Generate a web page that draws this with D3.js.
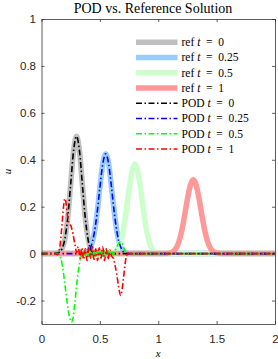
<!DOCTYPE html>
<html>
<head>
<meta charset="utf-8">
<script src="https://cdn.jsdelivr.net/npm/d3@7"></script>
<style>
  body { margin: 0; background: #fff; }
  svg { display: block; }
</style>
</head>
<body>
<div id="chart"></div>
<script>
// reference solutions
var refX0 = [0, 0.1, 0.125, 0.15, 0.175, 0.2, 0.225, 0.25, 0.275, 0.3, 0.325, 0.35, 0.375, 0.4, 0.425, 0.45, 0.475, 0.5, 2];
var refU0 = [0, 0, 0.001, 0.004, 0.019, 0.061, 0.154, 0.296, 0.439, 0.5, 0.439, 0.296, 0.154, 0.061, 0.019, 0.004, 0.001, 0, 0];

var refX1 = [0, 0.35, 0.375, 0.4, 0.425, 0.45, 0.475, 0.5, 0.525, 0.55, 0.575, 0.6, 0.625, 0.65, 0.675, 0.7, 0.725, 0.75, 2];
var refU1 = [0, 0, 0.003, 0.010, 0.032, 0.082, 0.168, 0.281, 0.383, 0.425, 0.383, 0.281, 0.168, 0.082, 0.032, 0.010, 0.003, 0, 0];

var refX2 = [0, 0.55, 0.6, 0.625, 0.65, 0.675, 0.7, 0.725, 0.75, 0.775, 0.8, 0.825, 0.85, 0.875, 0.9, 0.925, 0.95, 0.975, 1.0, 1.05, 2];
var refU2 = [0, 0, 0.002, 0.006, 0.018, 0.046, 0.099, 0.179, 0.273, 0.351, 0.382, 0.351, 0.273, 0.179, 0.099, 0.046, 0.018, 0.006, 0.002, 0, 0];

var refX3 = [0, 1.05, 1.1, 1.125, 1.15, 1.175, 1.2, 1.225, 1.25, 1.275, 1.3, 1.325, 1.35, 1.375, 1.4, 1.425, 1.45, 1.475, 1.5, 1.55, 2];
var refU3 = [0, 0, 0.003, 0.008, 0.021, 0.048, 0.095, 0.160, 0.233, 0.292, 0.315, 0.292, 0.233, 0.160, 0.095, 0.048, 0.021, 0.008, 0.003, 0, 0];

// POD approximations
var podX0 = [0, 0.1, 0.125, 0.15, 0.175, 0.2, 0.225, 0.25, 0.275, 0.3, 0.325, 0.35, 0.375, 0.4, 0.425, 0.45, 0.475, 0.5, 2];
var podU0 = [0, 0, 0.001, 0.005, 0.02, 0.062, 0.155, 0.296, 0.44, 0.5, 0.44, 0.295, 0.152, 0.058, 0.012, -0.008, 0.004, 0, 0];

var podX1 = [0, 0.35, 0.375, 0.4, 0.425, 0.45, 0.475, 0.5, 0.525, 0.55, 0.575, 0.6, 0.625, 0.65, 0.675, 0.7, 0.725, 0.75, 2];
var podU1 = [0, 0, 0.003, 0.010, 0.032, 0.082, 0.168, 0.281, 0.383, 0.425, 0.383, 0.281, 0.168, 0.082, 0.032, 0.008, 0.001, 0, 0];

var podX2 = [0, 0.12, 0.15, 0.165, 0.18, 0.19, 0.2, 0.215, 0.23, 0.245, 0.258, 0.27, 0.285, 0.3, 0.315, 0.33, 0.345, 0.36, 0.375, 0.39,
             0.405, 0.42, 0.435, 0.45, 0.465, 0.48, 0.495, 0.51, 0.525, 0.54, 0.555, 0.57, 0.585, 0.6, 0.615, 0.63, 0.645, 0.66, 0.675, 0.69,
             0.705, 0.72, 0.735, 0.75, 0.77, 2];
var podU2 = [0, 0, 0, -0.02, -0.055, -0.09, -0.13, -0.19, -0.245, -0.28, -0.292, -0.275, -0.215, -0.14, -0.075, -0.03, -0.005, 0.012, -0.008, 0.018,
             -0.012, 0.015, -0.015, 0.01, -0.012, 0.018, -0.01, 0.014, -0.016, 0.012, -0.008, 0.015, -0.012, 0.01, -0.006, 0.012, 0.028, 0.043, 0.05, 0.045,
             0.025, 0.005, -0.008, 0.004, 0, 0];

var podX3 = [0, 0.12, 0.135, 0.15, 0.16, 0.17, 0.18, 0.19, 0.2, 0.21, 0.22, 0.23, 0.24, 0.25, 0.26, 0.27, 0.28, 0.29, 0.3, 0.315,
             0.33, 0.345, 0.36, 0.375, 0.39, 0.405, 0.42, 0.435, 0.45, 0.465, 0.48, 0.495, 0.51, 0.525, 0.54, 0.555, 0.57, 0.585, 0.6, 0.615,
             0.63, 0.645, 0.66, 0.678, 0.69, 0.7, 0.71, 0.72, 0.735, 0.75, 2];
var podU3 = [0, 0, -0.005, 0.01, 0.04, 0.09, 0.15, 0.205, 0.235, 0.215, 0.17, 0.14, 0.125, 0.12, 0.105, 0.085, 0.055, 0.03, 0.005, 0.03,
             -0.02, 0.025, -0.025, 0.02, -0.03, 0.028, -0.02, 0.03, -0.025, 0.02, -0.03, 0.025, -0.02, 0.028, -0.03, 0.02, -0.025, 0.015, -0.01, -0.02,
             -0.05, -0.09, -0.14, -0.178, -0.155, -0.115, -0.07, -0.03, 0.005, 0, 0];

var xTicks = [0, 0.5, 1, 1.5, 2];
var yTicks = [-0.2, 0, 0.2, 0.4, 0.6, 0.8, 1];
var legendLabels = ["0", "0.25", "0.5", "1", "0", "0.25", "0.5", "1"];

// layout
var W = 278, H = 359;
var plotLeft = 41.5, plotRight = 275, plotTop = 19, plotBottom = 324;
var axisColor = "#333";
var serif = "'Liberation Serif', 'DejaVu Serif', serif";
var sans = "'Liberation Sans', Arial, sans-serif";

var x = d3.scaleLinear().domain([0, 2]).range([plotLeft, plotRight]);
var y = d3.scaleLinear().domain([-0.3, 1]).range([plotBottom, plotTop]);

var svg = d3.select("#chart").append("svg")
    .attr("width", W)
    .attr("height", H);

svg.append("clipPath").attr("id", "clip")
  .append("rect")
    .attr("x", plotLeft).attr("y", plotTop)
    .attr("width", plotRight - plotLeft).attr("height", plotBottom - plotTop);

var line = d3.line()
    .x(function(d) { return x(d[0]); })
    .y(function(d) { return y(d[1]); })
    .curve(d3.curveMonotoneX);

function pairs(xs, us) {
  return xs.map(function(v, i) { return [v, us[i]]; });
}

var refs = [
  {xs: refX0, us: refU0, color: "#bfbfbf"},
  {xs: refX1, us: refU1, color: "#99ccff"},
  {xs: refX2, us: refU2, color: "#ccffcc"},
  {xs: refX3, us: refU3, color: "#ff9999"}
];
var pods = [
  {xs: podX0, us: podU0, color: "#000000"},
  {xs: podX1, us: podU1, color: "#0000ff"},
  {xs: podX2, us: podU2, color: "#00ff00"},
  {xs: podX3, us: podU3, color: "#ff0000"}
];
var dash = "6,2.5,1.5,2.5";

var plot = svg.append("g").attr("clip-path", "url(#clip)");

refs.forEach(function(s) {
  plot.append("path")
      .datum(pairs(s.xs, s.us))
      .attr("fill", "none")
      .attr("stroke", s.color)
      .attr("stroke-width", 5.5)
      .attr("d", line);
});

pods.forEach(function(s) {
  plot.append("path")
      .datum(pairs(s.xs, s.us))
      .attr("fill", "none")
      .attr("stroke", s.color)
      .attr("stroke-width", 1.6)
      .attr("stroke-dasharray", dash)
      .attr("d", line);
});

// axes (box with inward ticks)
function styleAxis(g) {
  g.attr("font-family", sans).attr("font-size", 11.5);
  g.selectAll("path, line").attr("stroke", axisColor).attr("stroke-width", 0.8);
  g.selectAll("text").attr("fill", "#262626");
}

svg.append("g")
    .attr("transform", "translate(0," + plotBottom + ")")
    .call(d3.axisBottom(x).tickValues(xTicks).tickSize(-3).tickSizeOuter(0).tickPadding(11)
      .tickFormat(function(d) { return String(d); }))
    .call(styleAxis);

svg.append("g")
    .attr("transform", "translate(0," + plotTop + ")")
    .call(d3.axisTop(x).tickValues(xTicks).tickSize(-3).tickSizeOuter(0).tickFormat(""))
    .call(styleAxis);

svg.append("g")
    .attr("transform", "translate(" + plotLeft + ",0)")
    .call(d3.axisLeft(y).tickValues(yTicks).tickSize(-3).tickSizeOuter(0).tickPadding(5.5)
      .tickFormat(function(d) { return String(d); }))
    .call(styleAxis);

svg.append("g")
    .attr("transform", "translate(" + plotRight + ",0)")
    .call(d3.axisRight(y).tickValues(yTicks).tickSize(-3).tickSizeOuter(0).tickFormat(""))
    .call(styleAxis);

// title and axis labels
svg.append("text")
    .attr("x", 153).attr("y", 12.5)
    .attr("text-anchor", "middle")
    .attr("font-family", serif)
    .attr("font-size", 14)
    .attr("fill", "#000")
    .text("POD vs. Reference Solution");

svg.append("text")
    .attr("x", (plotLeft + plotRight) / 2).attr("y", 356.5)
    .attr("text-anchor", "middle")
    .attr("font-family", serif)
    .attr("font-style", "italic")
    .attr("font-size", 11)
    .text("x");

svg.append("text")
    .attr("transform", "translate(11," + ((plotTop + plotBottom) / 2) + ")rotate(-90)")
    .attr("text-anchor", "middle")
    .attr("font-family", serif)
    .attr("font-style", "italic")
    .attr("font-size", 11)
    .text("u");

// legend
var legend = svg.append("g");
var rowY = 42.3, rowStep = 15.25;
legendLabels.forEach(function(lab, i) {
  var yy = rowY + i * rowStep;
  var isRef = i < 4;
  var s = isRef ? refs[i] : pods[i - 4];
  legend.append("line")
      .attr("x1", 136).attr("x2", 177.5)
      .attr("y1", yy).attr("y2", yy)
      .attr("stroke", s.color)
      .attr("stroke-width", isRef ? 5.5 : 1.6)
      .attr("stroke-dasharray", isRef ? null : dash);
  var t = legend.append("text")
      .attr("x", 181.5).attr("y", yy + 3.8)
      .attr("font-family", serif)
      .attr("font-size", 11.5)
      .attr("fill", "#000")
      .style("white-space", "pre");
  t.append("tspan").text(isRef ? "ref " : "POD ");
  t.append("tspan").attr("font-style", "italic").text("t");
  t.append("tspan").text("\u2002=\u2002" + lab);
});
</script>
</body>
</html>
